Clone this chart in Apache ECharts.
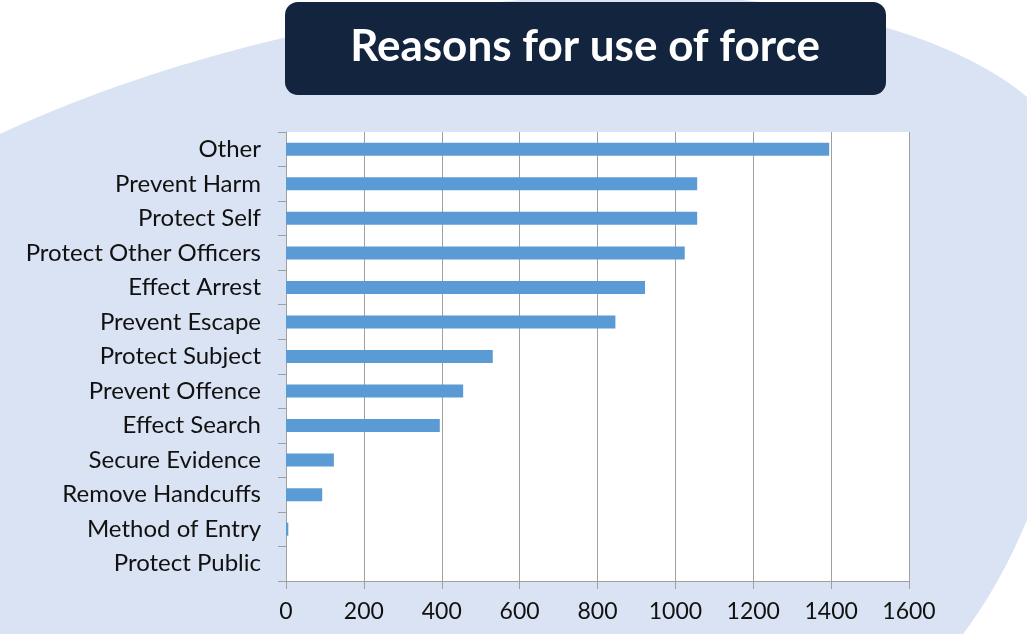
<!DOCTYPE html>
<html>
<head>
<meta charset="utf-8">
<script src="https://cdn.jsdelivr.net/npm/echarts@6/dist/echarts.min.js"></script>
<style>
html,body{margin:0;padding:0;background:#ffffff;}
#chart{width:1027px;height:634px;}
</style>
</head>
<body>
<div id="chart"></div>
<script>
var titleText = 'Reasons for use of force';
var categories = ['Other','Prevent Harm','Protect Self','Protect Other Officers','Effect Arrest','Prevent Escape','Protect Subject','Prevent Offence','Effect Search','Secure Evidence','Remove Handcuffs','Method of Entry','Protect Public'];
var values = [1395,1056,1056,1024,922,846,531,455,395,123,93,6,0];
var xTicks = [0,200,400,600,800,1000,1200,1400,1600];

var Blob = echarts.graphic.extendShape({
  shape: {},
  buildPath: function (ctx) {
    ctx.moveTo(0, 134);
    ctx.bezierCurveTo(180, 50, 420, -5, 640, -5);
    ctx.bezierCurveTo(820, -5, 960, 40, 1027, 97);
    ctx.lineTo(1027, 520);
    ctx.quadraticCurveTo(1000, 585, 963, 634);
    ctx.lineTo(0, 634);
    ctx.closePath();
  }
});
echarts.graphic.registerShape('bgBlob', Blob);

var chart = echarts.init(document.getElementById('chart'));
var option = {
  animation: false,
  backgroundColor: '#ffffff',
  graphic: [
    {
      type: 'bgBlob', z: -10, silent: true,
      shape: {},
      style: { fill: '#dae3f3' }
    },
    {
      type: 'rect', z: 10, silent: true,
      shape: { x: 285, y: 2, width: 601, height: 93, r: 13 },
      style: { fill: '#13243f' }
    },
    {
      type: 'text', z: 11, silent: true,
      style: { text: titleText, x: 585, y: 47, align: 'center', verticalAlign: 'middle',
        fill: '#ffffff', font: 'bold 44px Lato' }
    }
  ],
  grid: { left: 286, right: 118, top: 132, bottom: 53, show: true, backgroundColor: '#ffffff', borderWidth: 0 },
  xAxis: {
    type: 'value', min: 0, max: 1600, interval: 200,
    axisLine: { show: true, lineStyle: { color: '#a0a0a0', width: 1 } },
    axisTick: { show: true, length: 8, lineStyle: { color: '#a0a0a0' } },
    splitLine: { show: true, lineStyle: { color: '#a0a0a0', width: 1 } },
    axisLabel: { color: '#111111', fontFamily: 'Lato', fontSize: 23, margin: 19,
      formatter: function(v){ return xTicks.indexOf(v) >= 0 ? String(v) : ''; } }
  },
  yAxis: {
    type: 'category', inverse: true, data: categories,
    axisLine: { show: true, lineStyle: { color: '#a0a0a0', width: 1 } },
    axisTick: { show: true, length: 8, lineStyle: { color: '#a0a0a0' } },
    axisLabel: { color: '#111111', fontFamily: 'Lato', fontSize: 24, margin: 25 }
  },
  series: [{
    type: 'bar', data: values, barWidth: 13,
    itemStyle: { color: '#5b9bd5' }
  }]
};
chart.setOption(option);
</script>
</body>
</html>
